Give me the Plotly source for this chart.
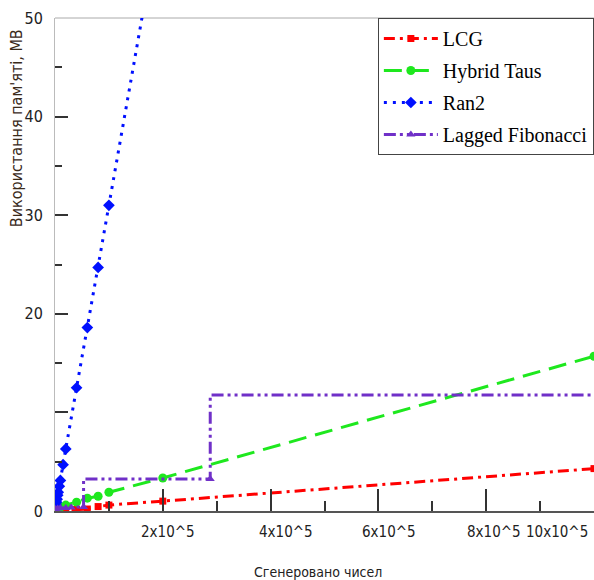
import plotly.graph_objects as go

# ---- data ----
x_lcg = [1e3, 5e3, 1e4, 2e4, 4e4, 6e4, 8e4, 1e5, 2e5, 1e6]
y_lcg = [0.05, 0.08, 0.1, 0.1, 0.15, 0.2, 0.45, 0.6, 1.0, 4.3]

x_taus = [1e3, 5e3, 1e4, 2e4, 4e4, 6e4, 8e4, 1e5, 2e5, 1e6]
y_taus = [0.2, 0.3, 0.4, 0.6, 0.9, 1.3, 1.5, 1.9, 3.35, 15.7]

x_ran2 = [1e3, 2e3, 3e3, 4e3, 5e3, 6e3, 8e3, 1e4, 1.5e4, 2e4, 4e4, 6e4, 8e4, 1e5, 2e5]
y_ran2 = [0.3, 0.6, 0.9, 1.2, 1.6, 1.9, 2.5, 3.1, 4.7, 6.3, 12.5, 18.6, 24.7, 31.0, 62.0]

x_lf = [1e3, 5e3, 1e4, 2e4, 3e4, 5.3e4, 2.88e5, 1.05e6]
y_lf = [0.2, 0.25, 0.3, 0.3, 0.35, 0.4, 3.25, 11.76]

names = ["LCG", "Hybrid Taus", "Ran2", "Lagged Fibonacci"]

y_tick_vals = [0, 10, 20, 30, 40, 50]
y_tick_text = ["0", "", "20", "30", "40", "50"]
x_label_text = ["2x10^5", "4x10^5", "6x10^5", "8x10^5", "10x10^5"]
x_label_pos = [2.1e5, 4.28e5, 6.2e5, 8.14e5, 9.32e5]

NARROW = "Liberation Sans Narrow, DejaVu Sans Condensed, Roboto Condensed, Liberation Sans, sans-serif"

fig = go.Figure()

fig.add_trace(go.Scatter(
    x=x_lcg, y=y_lcg, name=names[0], mode="lines+markers", legendgroup="a",
    line=dict(color="#ff0000", width=3, dash="11px,5px,3px,5px"),
    marker=dict(symbol="square", size=7, color="#ff0000")))
fig.add_trace(go.Scatter(
    x=x_taus, y=y_taus, name=names[1], mode="lines+markers", legendgroup="b",
    line=dict(color="#1ee81e", width=3, dash="18px,9px"),
    marker=dict(symbol="circle", size=9, color="#1ee81e")))
fig.add_trace(go.Scatter(
    x=x_ran2, y=y_ran2, name=names[2], mode="lines+markers", legendgroup="c",
    line=dict(color="#0010ff", width=3, dash="3px,6px"),
    marker=dict(symbol="diamond", size=9, color="#0010ff")))
fig.add_trace(go.Scatter(
    x=x_lf, y=y_lf, name=names[3], mode="lines+markers", line_shape="vh", legendgroup="d",
    line=dict(color="#7030c8", width=3, dash="12px,4px,3px,4px,3px,4px"),
    marker=dict(symbol="triangle-up", size=8, color="#7030c8")))

fig.update_layout(
    width=594, height=580, autosize=False,
    margin=dict(l=55, r=0, t=18, b=69),
    paper_bgcolor="white", plot_bgcolor="white",
    showlegend=True,
    legend=dict(
        x=0.599, y=1.0, xanchor="left", yanchor="top",
        bgcolor="white", bordercolor="#444", borderwidth=1,
        font=dict(family="Liberation Serif", size=20, color="black"),
        tracegroupgap=3, itemwidth=54,
    ),
    xaxis=dict(
        range=[0, 1e6], showgrid=False, zeroline=False,
        showline=True, linecolor="#555", linewidth=1.5,
        tickmode="array", tickvals=[2e5, 4e5, 6e5, 8e5], ticktext=["", "", "", ""],
        ticks="inside", ticklen=22, tickcolor="#333", tickwidth=1.5,
        minor=dict(tickmode="array", tickvals=[1e5, 3e5, 5e5, 7e5, 9e5],
                   ticks="inside", ticklen=10, tickcolor="#333", tickwidth=1.5),
    ),
    yaxis=dict(
        range=[0, 50], showgrid=False, zeroline=False,
        showline=True, linecolor="#bbb", linewidth=1,
        tickmode="array", tickvals=y_tick_vals, ticktext=y_tick_text,
        ticks="inside", ticklen=13, tickcolor="#333", tickwidth=2,
        minor=dict(tickmode="array", tickvals=[5, 15, 25, 35, 45],
                   ticks="inside", ticklen=7, tickcolor="#333", tickwidth=2),
        tickfont=dict(family=NARROW, size=16, color="#222"),
        ticklabelstandoff=8,
    ),
)

# light top frame line
fig.add_shape(type="line", xref="paper", yref="paper", x0=0, x1=1, y0=1, y1=1,
              line=dict(color="#aaa", width=1), layer="below")

for pos, txt in zip(x_label_pos, x_label_text):
    fig.add_annotation(x=pos, y=-0.02, xref="x", yref="paper", text=txt,
                       showarrow=False, yanchor="top",
                       font=dict(family=NARROW, size=15, color="#222"))

fig.add_annotation(x=-0.07, y=0.777, xref="paper", yref="paper",
                   text="Використання пам'яті, МВ", textangle=-90, showarrow=False,
                   xanchor="center", yanchor="middle",
                   font=dict(family="DejaVu Sans Condensed, Liberation Sans Narrow, sans-serif",
                             size=16, color="#3a2a1a"))
fig.add_annotation(x=0.488, y=-0.123, xref="paper", yref="paper",
                   text="Сгенеровано чисел", showarrow=False,
                   xanchor="center", yanchor="middle",
                   font=dict(family=NARROW, size=14, color="#222"))

fig.write_html("out.html", config={"displayModeBar": False},
               post_script="document.body.style.margin='0';document.body.style.overflow='hidden';")
